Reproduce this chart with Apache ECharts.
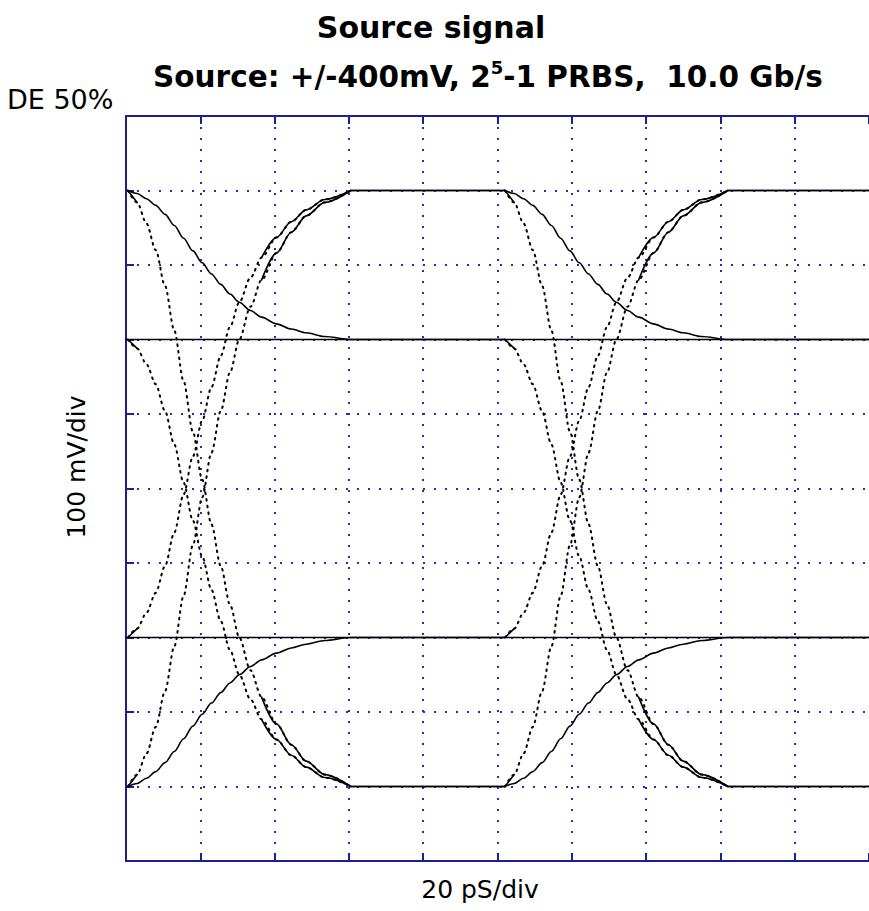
<!DOCTYPE html>
<html><head><meta charset="utf-8">
<script src="https://cdn.jsdelivr.net/npm/echarts@6/dist/echarts.min.js"></script>
<style>html,body{margin:0;padding:0;background:#fff}#c{width:869px;height:911px}</style>
</head><body><div id="c"></div>
<script>
// ---- axes (time in ps, voltage in mV) ----
const xRange = [0, 200];          // 20 pS/div, 10 divisions
const yRange = [-500, 500];       // 100 mV/div, 10 divisions
const xStep = 20;
const yStep = 100;

// ---- bit edges: start time (ps) of each unit interval shown and end of its trace ----
const edgeStarts = [0.5, 102];
const edgeEnds = [102, 200];

// ---- edge shape: time after edge start (ps) ----
const tEdge = [0, 2.5, 5, 7.5, 10, 12.5, 15, 17.5, 20, 22.5, 25, 27.5, 30, 33, 36, 40, 44, 48, 53, 60];

// trace voltages (mV) at tEdge
const fall400to200   = [400, 396, 389, 380, 368, 353, 336, 319, 303, 288, 274, 261, 250, 239, 230, 221, 214, 209, 204, 200];
const riseN400toN200 = [-400, -396, -389, -380, -368, -353, -336, -319, -303, -288, -274, -261, -250, -239, -230, -221, -214, -209, -204, -200];
const fall400toN400  = [400, 384, 356, 320, 272, 212, 144, 76, 12, -48, -104, -156, -200, -244, -280, -316, -344, -366, -384, -400];
const riseN400to400  = [-400, -384, -356, -320, -272, -212, -144, -76, -12, 48, 104, 156, 200, 244, 280, 316, 344, 366, 384, 400];
const fall200toN400  = [200, 188, 167, 140, 104, 59, 8, -43, -91, -136, -178, -217, -250, -283, -310, -337, -358, -374, -388, -400];
const riseN200to400  = [-200, -188, -167, -140, -104, -59, -8, 43, 91, 136, 178, 217, 250, 283, 310, 337, 358, 374, 388, 400];

// steady (de-emphasised) levels running across the whole sweep
const steadyLevels = [200, -200];

const BORDER = '#1e1e92';
const GRIDC = '#2a2ab8';
const TRACE = '#000000';

const traces = [
  {v: fall400to200, dotted: false},
  {v: riseN400toN200, dotted: false},
  {v: fall400toN400, dotted: true},
  {v: riseN400to400, dotted: true},
  {v: fall200toN400, dotted: true},
  {v: riseN200to400, dotted: true}
];

const series = [];
function lineSeries(data, dotted) {
  return {
    type: 'line', data: data, showSymbol: false, symbol: 'none',
    smooth: 0.3, smoothMonotone: 'x', animation: false, silent: true,
    lineStyle: {color: TRACE, width: dotted ? 2 : 1.6, type: dotted ? [1.6, 5] : 'solid', cap: 'round'},
    z: 5
  };
}
steadyLevels.forEach(l => {
  series.push(lineSeries([[xRange[0], l], [xRange[1], l]], false));
});
edgeStarts.forEach((t0, u) => {
  traces.forEach(tr => {
    const pts = tEdge.map((t, i) => [t0 + t, tr.v[i]]);
    const last = tr.v[tr.v.length - 1];
    if (!tr.dotted) {
      series.push(lineSeries(pts.concat([[edgeEnds[u], last]]), false));
    } else {
      series.push(lineSeries(pts, true));
      series.push(lineSeries(pts.slice(0, 2), false));
      series.push(lineSeries(pts.slice(14), false));
      series.push(lineSeries([pts[pts.length - 1], [edgeEnds[u], last]], false));
    }
  });
});

const axisCommon = {
  type: 'value',
  axisLine: {show: true, onZero: false, lineStyle: {color: BORDER, width: 2}},
  axisTick: {show: true, inside: true, length: 8, lineStyle: {color: BORDER, width: 2}},
  axisLabel: {show: false}
};

const option = {
  backgroundColor: '#ffffff',
  animation: false,
  grid: {left: 126, top: 116, width: 746, height: 745, show: false},
  xAxis: [
    Object.assign({}, axisCommon, {min: xRange[0], max: xRange[1], interval: xStep, position: 'bottom',
      splitLine: {show: true, showMinLine: false, showMaxLine: false, lineStyle: {color: GRIDC, width: 2, type: [2, 9]}}}),
    Object.assign({}, axisCommon, {min: xRange[0], max: xRange[1], interval: xStep, position: 'top',
      splitLine: {show: false}})
  ],
  yAxis: [
    Object.assign({}, axisCommon, {min: yRange[0], max: yRange[1], interval: yStep, position: 'left',
      splitLine: {show: true, showMinLine: false, showMaxLine: false, lineStyle: {color: GRIDC, width: 2, type: [2, 9]}}})
  ],
  series: series,
  graphic: [
    {type: 'text', x: 431, y: 27, style: {text: 'Source signal', font: 'bold 30px "DejaVu Sans"', fill: '#000',
      align: 'center', verticalAlign: 'middle', textAlign: 'center', textVerticalAlign: 'middle'}},
    {type: 'text', x: 488, y: 75, style: {
      text: '{a|Source: +/-400mV, 2}{s|5}{a|-1 PRBS,  10.0 Gb/s}',
      rich: {
        a: {font: 'bold 29.5px "DejaVu Sans"', fontSize: 29.5, fontWeight: 'bold', fontFamily: 'DejaVu Sans', fill: '#000', lineHeight: 34, verticalAlign: 'bottom'},
        s: {font: 'bold 18px "DejaVu Sans"', fontSize: 18, fontWeight: 'bold', fontFamily: 'DejaVu Sans', fill: '#000', lineHeight: 34, verticalAlign: 'top'}
      },
      align: 'center', verticalAlign: 'middle', textAlign: 'center', textVerticalAlign: 'middle'}},
    {type: 'text', x: 7, y: 99, style: {text: 'DE 50%', font: '27px "DejaVu Sans"', fill: '#000',
      align: 'left', verticalAlign: 'middle', textAlign: 'left', textVerticalAlign: 'middle'}},
    {type: 'text', x: 480, y: 889, style: {text: '20 pS/div', font: '25px "DejaVu Sans"', fill: '#000',
      align: 'center', verticalAlign: 'middle', textAlign: 'center', textVerticalAlign: 'middle'}},
    {type: 'text', x: 76, y: 467, rotation: Math.PI / 2, style: {text: '100 mV/div', font: '25px "DejaVu Sans"', fill: '#000',
      align: 'center', verticalAlign: 'middle', textAlign: 'center', textVerticalAlign: 'middle'}}
  ]
};

const chart = echarts.init(document.getElementById('c'), null, {renderer: 'svg', width: 869, height: 911});
chart.setOption(option);
</script>
</body></html>
